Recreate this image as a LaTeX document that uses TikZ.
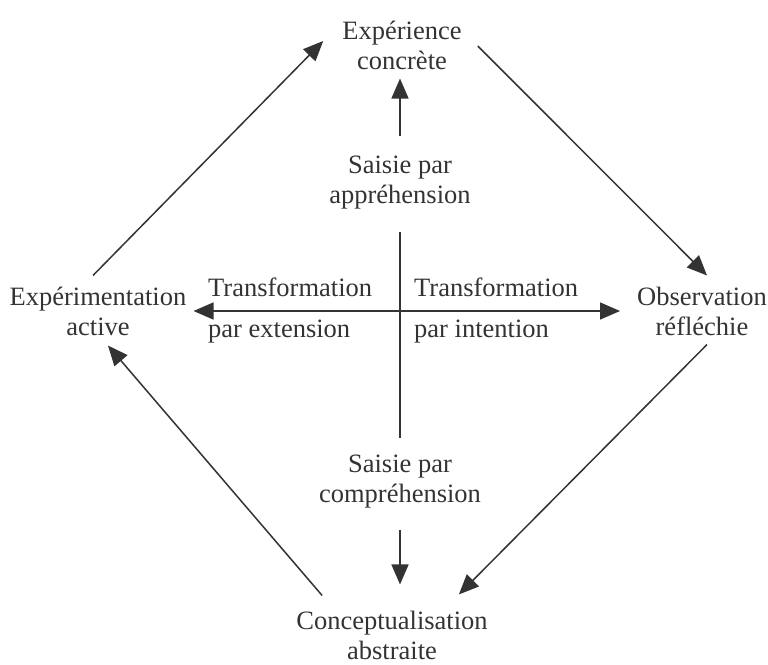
\documentclass[tikz,border=0pt]{standalone}
\usepackage{fontspec}
\setmainfont{Liberation Serif}
\usetikzlibrary{arrows.meta,calc}
\definecolor{ink}{HTML}{333333}
\tikzset{
  lbl/.style={inner sep=0pt, text=ink, align=center,
    font=\fontsize{26.5}{30}\selectfont},
  side/.style={lbl, align=left},
  arr/.style={draw=ink, line width=1.5pt, ->},
  dbl/.style={draw=ink, line width=1.5pt, <->},
  axis/.style={draw=ink, line width=1.5pt}
}
\begin{document}
\begin{tikzpicture}[x=1pt,y=-1pt,>={Triangle[length=20pt,width=17pt]}]
\useasboundingbox (0,0) rectangle (768,664);

% the four stages of the cycle
\node[lbl] (exp) at (402,45) {Expérience\\concrète};
\node[lbl] (act) at (98,311) {Expérimentation\\active};
\node[lbl] (obs) at (702,311) {Observation\\réfléchie};
\node[lbl] (con) at (392,635) {Conceptualisation\\abstraite};

% the two modes of grasping
\node[lbl] (sapp) at (400,183) {Saisie par\\appréhension};
\node[lbl] (scom) at (400,482) {Saisie par\\compréhension};

% the two modes of transforming, set on either side of the axis
\node[side, anchor=west] (tex) at (208,310) {Transformation\\[11pt]par extension};
\node[side, anchor=west] (tin) at (414,310) {Transformation\\[11pt]par intention};

% central cross
\draw[axis, shorten <=22pt, shorten >=17pt] (sapp.south) -- (sapp.south |- scom.north);
\draw[dbl, shorten <=7pt, shorten >=17pt] (act.east) -- (act.east -| obs.west);

% grasping arrows
\draw[arr, shorten <=20pt, shorten >=9pt] (sapp.north) -- (sapp.north |- exp.south);
\draw[arr, shorten <=21pt, shorten >=26pt] (scom.south) -- (scom.south |- con.north);

% the cycle
\draw[arr] ($(act.north)+(-5,-11)$) -- ($(exp.west)+(-19,-4)$);
\draw[arr] ($(exp.east)+(16,1)$) -- ($(obs.north)+(5,-11)$);
\draw[arr] ($(obs.south)+(5,9)$) -- ($(con.north east)+(-29,-16)$);
\draw[arr] ($(con.north west)+(26,-15)$) -- ($(act.south)+(10,10)$);
\end{tikzpicture}
\end{document}
